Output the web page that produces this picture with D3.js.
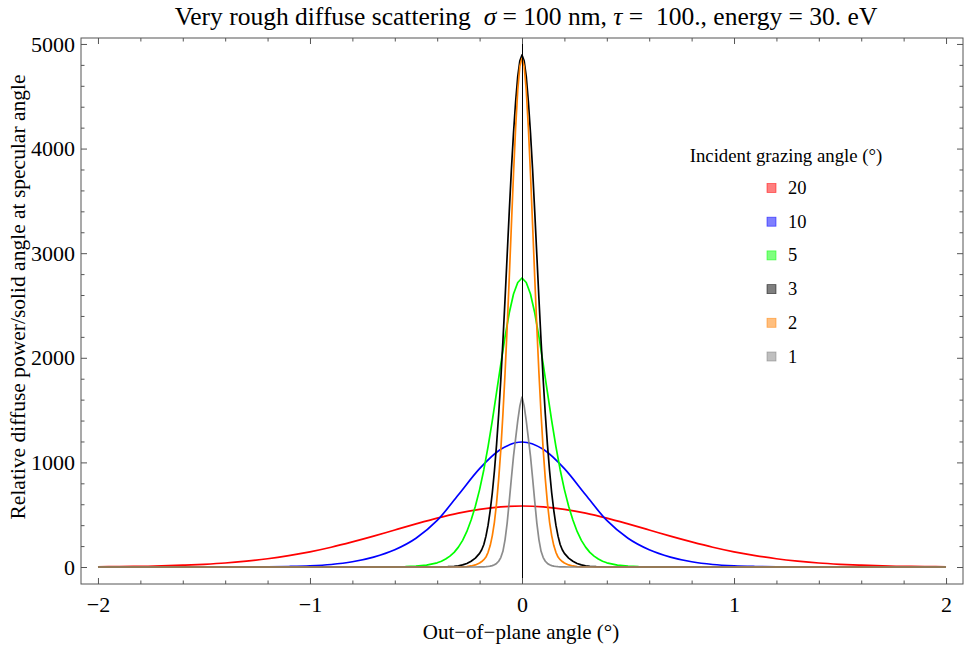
<!DOCTYPE html>
<html><head><meta charset="utf-8">
<script src="https://cdn.jsdelivr.net/npm/d3@7"></script>
<style>
body{margin:0;background:#fff}
svg{display:block}
text{font-family:"Liberation Serif","Times New Roman",serif;fill:#000}
</style>
</head><body>
<svg id="c" width="964" height="647"></svg>
<script>
// ---------- data ----------
const incidentAngles = ['20', '10', '5', '3', '2', '1'];
const seriesColors = ['#ff0000', '#0000ff', '#00ff00', '#000000', '#ff8000', '#808080'];

// wide grid (20°, 10°)
const anglesWide = [-2,-1.9,-1.8,-1.7,-1.6,-1.5,-1.4,-1.3,-1.2,-1.1,-1,-0.9,-0.8,-0.7,-0.6,-0.5,-0.4,-0.3,-0.2,-0.1,0,
  0.1,0.2,0.3,0.4,0.5,0.6,0.7,0.8,0.9,1,1.1,1.2,1.3,1.4,1.5,1.6,1.7,1.8,1.9,2];
const power20 = [2,4,6,10,17,26,38,56,79,109,145,189,240,295,354,412,467,515,551,575,583,
  575,551,515,467,412,354,295,240,189,145,109,79,56,38,26,17,10,6,4,2];
const power10 = [0,0,0,0,0,0,0,1,2,5,11,24,50,95,165,275,445,690,940,1125,1195,
  1125,940,690,445,275,165,95,50,24,11,5,2,1,0,0,0,0,0,0,0];

// medium grid (5°)
const anglesMid = [-2,-0.7,-0.6,-0.55,-0.5,-0.45,-0.4,-0.38,-0.36,-0.34,-0.32,-0.3,-0.28,-0.26,-0.24,-0.22,-0.2,-0.18,-0.16,-0.14,-0.12,-0.1,-0.08,-0.06,-0.04,-0.02,0,
  0.02,0.04,0.06,0.08,0.1,0.12,0.14,0.16,0.18,0.2,0.22,0.24,0.26,0.28,0.3,0.32,0.34,0.36,0.38,0.4,0.45,0.5,0.55,0.6,0.7,2];
const power5 = [0,0,1,3,8,18,40,55,76,104,140,190,255,340,450,580,740,930,1150,1400,1670,1940,2200,2430,2610,2720,2763,
  2720,2610,2430,2200,1940,1670,1400,1150,930,740,580,450,340,255,190,140,104,76,55,40,18,8,3,1,0,0];

// fine grid (3°, 2°, 1°)
const anglesFine = [-2,-0.4,-0.35,-0.32,-0.3,-0.28,-0.26,-0.24,-0.22,-0.2,-0.19,-0.18,-0.17,-0.16,-0.15,-0.14,-0.13,-0.12,-0.11,-0.1,-0.09,-0.08,-0.07,-0.06,-0.05,-0.04,-0.03,-0.02,-0.01,0,
  0.01,0.02,0.03,0.04,0.05,0.06,0.07,0.08,0.09,0.1,0.11,0.12,0.13,0.14,0.15,0.16,0.17,0.18,0.19,0.2,0.22,0.24,0.26,0.28,0.3,0.32,0.35,0.4,2];
const power3 = [0,0,3,7,12,20,34,55,85,130,165,215,295,400,540,710,920,1170,1460,1790,2160,2560,2980,3400,3800,4150,4450,4690,4840,4895,
  4840,4690,4450,4150,3800,3400,2980,2560,2160,1790,1460,1170,920,710,540,400,295,215,165,130,85,55,34,20,12,7,3,0,0];
const power2 = [0,0,0,0,1,2,4,10,20,38,52,70,95,140,205,300,430,610,840,1120,1460,1850,2290,2770,3270,3760,4200,4560,4790,4863,
  4790,4560,4200,3760,3270,2770,2290,1850,1460,1120,840,610,430,300,205,140,95,70,52,38,20,10,4,2,1,0,0,0,0];
const power1 = [0,0,0,0,0,0,0,0,0,1,1,2,3,5,8,13,21,34,55,90,150,260,420,630,850,1060,1230,1400,1540,1625,
  1540,1400,1230,1060,850,630,420,260,150,90,55,34,21,13,8,5,3,2,1,1,0,0,0,0,0,0,0,0,0];

const xMajorTicks = [-2, -1, 0, 1, 2];
const xTickLabels = ['\u22122', '\u22121', '0', '1', '2'];
const xMinorTicks = [-1.8,-1.6,-1.4,-1.2,-0.8,-0.6,-0.4,-0.2,0.2,0.4,0.6,0.8,1.2,1.4,1.6,1.8];
const yMajorTicks = [0, 1000, 2000, 3000, 4000, 5000];
const yTickLabels = ['0', '1000', '2000', '3000', '4000', '5000'];
const yMinorTicks = [200,400,600,800,1200,1400,1600,1800,2200,2400,2600,2800,3200,3400,3600,3800,4200,4400,4600,4800];

// ---------- layout ----------
const svg = d3.select('#c');
const L = 81, R = 963, T = 38, B = 584;
const x = d3.scaleLinear().domain([-2.08, 2.08]).range([L, R]);
const y = d3.scaleLinear().domain([-162.5, 5057]).range([B, T]);

const series = [
  {angles: anglesWide, values: power20, curve: d3.curveMonotoneX},
  {angles: anglesWide, values: power10, curve: d3.curveMonotoneX},
  {angles: anglesMid, values: power5, curve: d3.curveLinear},
  {angles: anglesFine, values: power3, curve: d3.curveLinear},
  {angles: anglesFine, values: power2, curve: d3.curveLinear},
  {angles: anglesFine, values: power1, curve: d3.curveLinear}
].map((s, i) => ({...s, color: seriesColors[i], label: incidentAngles[i]}));

svg.append('clipPath').attr('id', 'clip').append('rect')
  .attr('x', L).attr('y', T).attr('width', R - L).attr('height', B - T);

const plot = svg.append('g').attr('clip-path', 'url(#clip)');

series.forEach((s, i) => {
  const pts = s.angles.map((a, k) => [a, s.values[k]]);
  const line = d3.line().x(d => x(d[0])).y(d => y(d[1])).curve(s.curve);
  plot.append('path').datum(pts)
    .attr('d', line)
    .attr('fill', 'none')
    .attr('stroke', s.color)
    .attr('stroke-opacity', i === 5 ? 0.9 : 1)
    .attr('stroke-width', 1.7)
    .attr('stroke-linejoin', 'round');
});

// vertical axis line at 0 (snapped to a pixel for a crisp black line)
const x0 = Math.floor(x(0)) + 0.5;
plot.append('line')
  .attr('x1', x0).attr('x2', x0).attr('y1', T).attr('y2', B)
  .attr('stroke', '#000').attr('stroke-width', 1);

// ---------- frame & ticks ----------
const frameColor = '#555';
function styleAxis(g, labels) {
  g.select('.domain').remove();
  g.selectAll('.tick line').attr('stroke', frameColor);
  g.selectAll('.tick text').attr('fill', '#000')
    .style('font-family', '"Liberation Serif","Times New Roman",serif')
    .style('font-size', '22px');
  if (!labels) g.selectAll('.tick text').remove();
}
const majorLen = 6, minorLen = 3.5;

svg.append('g').attr('transform', `translate(0,${B})`)
  .call(d3.axisBottom(x).tickValues(xMajorTicks).tickSize(-majorLen).tickPadding(12)
    .tickFormat((d, i) => xTickLabels[i]))
  .call(g => styleAxis(g, true));
svg.append('g').attr('transform', `translate(0,${B})`)
  .call(d3.axisBottom(x).tickValues(xMinorTicks).tickSize(-minorLen))
  .call(g => styleAxis(g, false));
svg.append('g').attr('transform', `translate(0,${T})`)
  .call(d3.axisTop(x).tickValues(xMajorTicks).tickSize(-majorLen))
  .call(g => styleAxis(g, false));
svg.append('g').attr('transform', `translate(0,${T})`)
  .call(d3.axisTop(x).tickValues(xMinorTicks).tickSize(-minorLen))
  .call(g => styleAxis(g, false));

svg.append('g').attr('transform', `translate(${L},0)`)
  .call(d3.axisLeft(y).tickValues(yMajorTicks).tickSize(-majorLen).tickPadding(6)
    .tickFormat((d, i) => yTickLabels[i]))
  .call(g => styleAxis(g, true));
svg.append('g').attr('transform', `translate(${L},0)`)
  .call(d3.axisLeft(y).tickValues(yMinorTicks).tickSize(-minorLen))
  .call(g => styleAxis(g, false));
svg.append('g').attr('transform', `translate(${R},0)`)
  .call(d3.axisRight(y).tickValues(yMajorTicks).tickSize(-majorLen))
  .call(g => styleAxis(g, false));
svg.append('g').attr('transform', `translate(${R},0)`)
  .call(d3.axisRight(y).tickValues(yMinorTicks).tickSize(-minorLen))
  .call(g => styleAxis(g, false));

svg.append('rect').attr('x', L).attr('y', T).attr('width', R - L).attr('height', B - T)
  .attr('fill', 'none').attr('stroke', frameColor).attr('stroke-width', 1);

// ---------- titles ----------
const title = svg.append('text').attr('x', 526).attr('y', 25)
  .attr('text-anchor', 'middle').style('font-size', '25.5px').style('white-space', 'pre');
title.append('tspan').text('Very rough diffuse scattering  ');
title.append('tspan').style('font-style', 'italic').text('\u03c3');
title.append('tspan').text(' = 100 nm, ');
title.append('tspan').style('font-style', 'italic').text('\u03c4');
title.append('tspan').text(' =  100., energy = 30. eV');

svg.append('text').attr('x', 521).attr('y', 639).attr('text-anchor', 'middle')
  .style('font-size', '21px').text('Out\u2212of\u2212plane angle (\u00b0)');

svg.append('text').attr('transform', 'translate(25,297) rotate(-90)').attr('text-anchor', 'middle')
  .style('font-size', '21.5px').text('Relative diffuse power/solid angle at specular angle');

// ---------- legend ----------
const lg = svg.append('g');
lg.append('text').attr('x', 786).attr('y', 162).attr('text-anchor', 'middle')
  .style('font-size', '18.8px').text('Incident grazing angle (\u00b0)');
series.forEach((s, i) => {
  const cy = 188 + i * 33.7;
  lg.append('rect').attr('x', 767).attr('y', cy - 4.5).attr('width', 9).attr('height', 9)
    .attr('fill', s.color).attr('fill-opacity', 0.5)
    .attr('stroke', s.color).attr('stroke-opacity', 0.6).attr('stroke-width', 0.8);
  lg.append('text').attr('x', 788).attr('y', cy + 6).style('font-size', '18.5px').text(s.label);
});
</script>
</body></html>
